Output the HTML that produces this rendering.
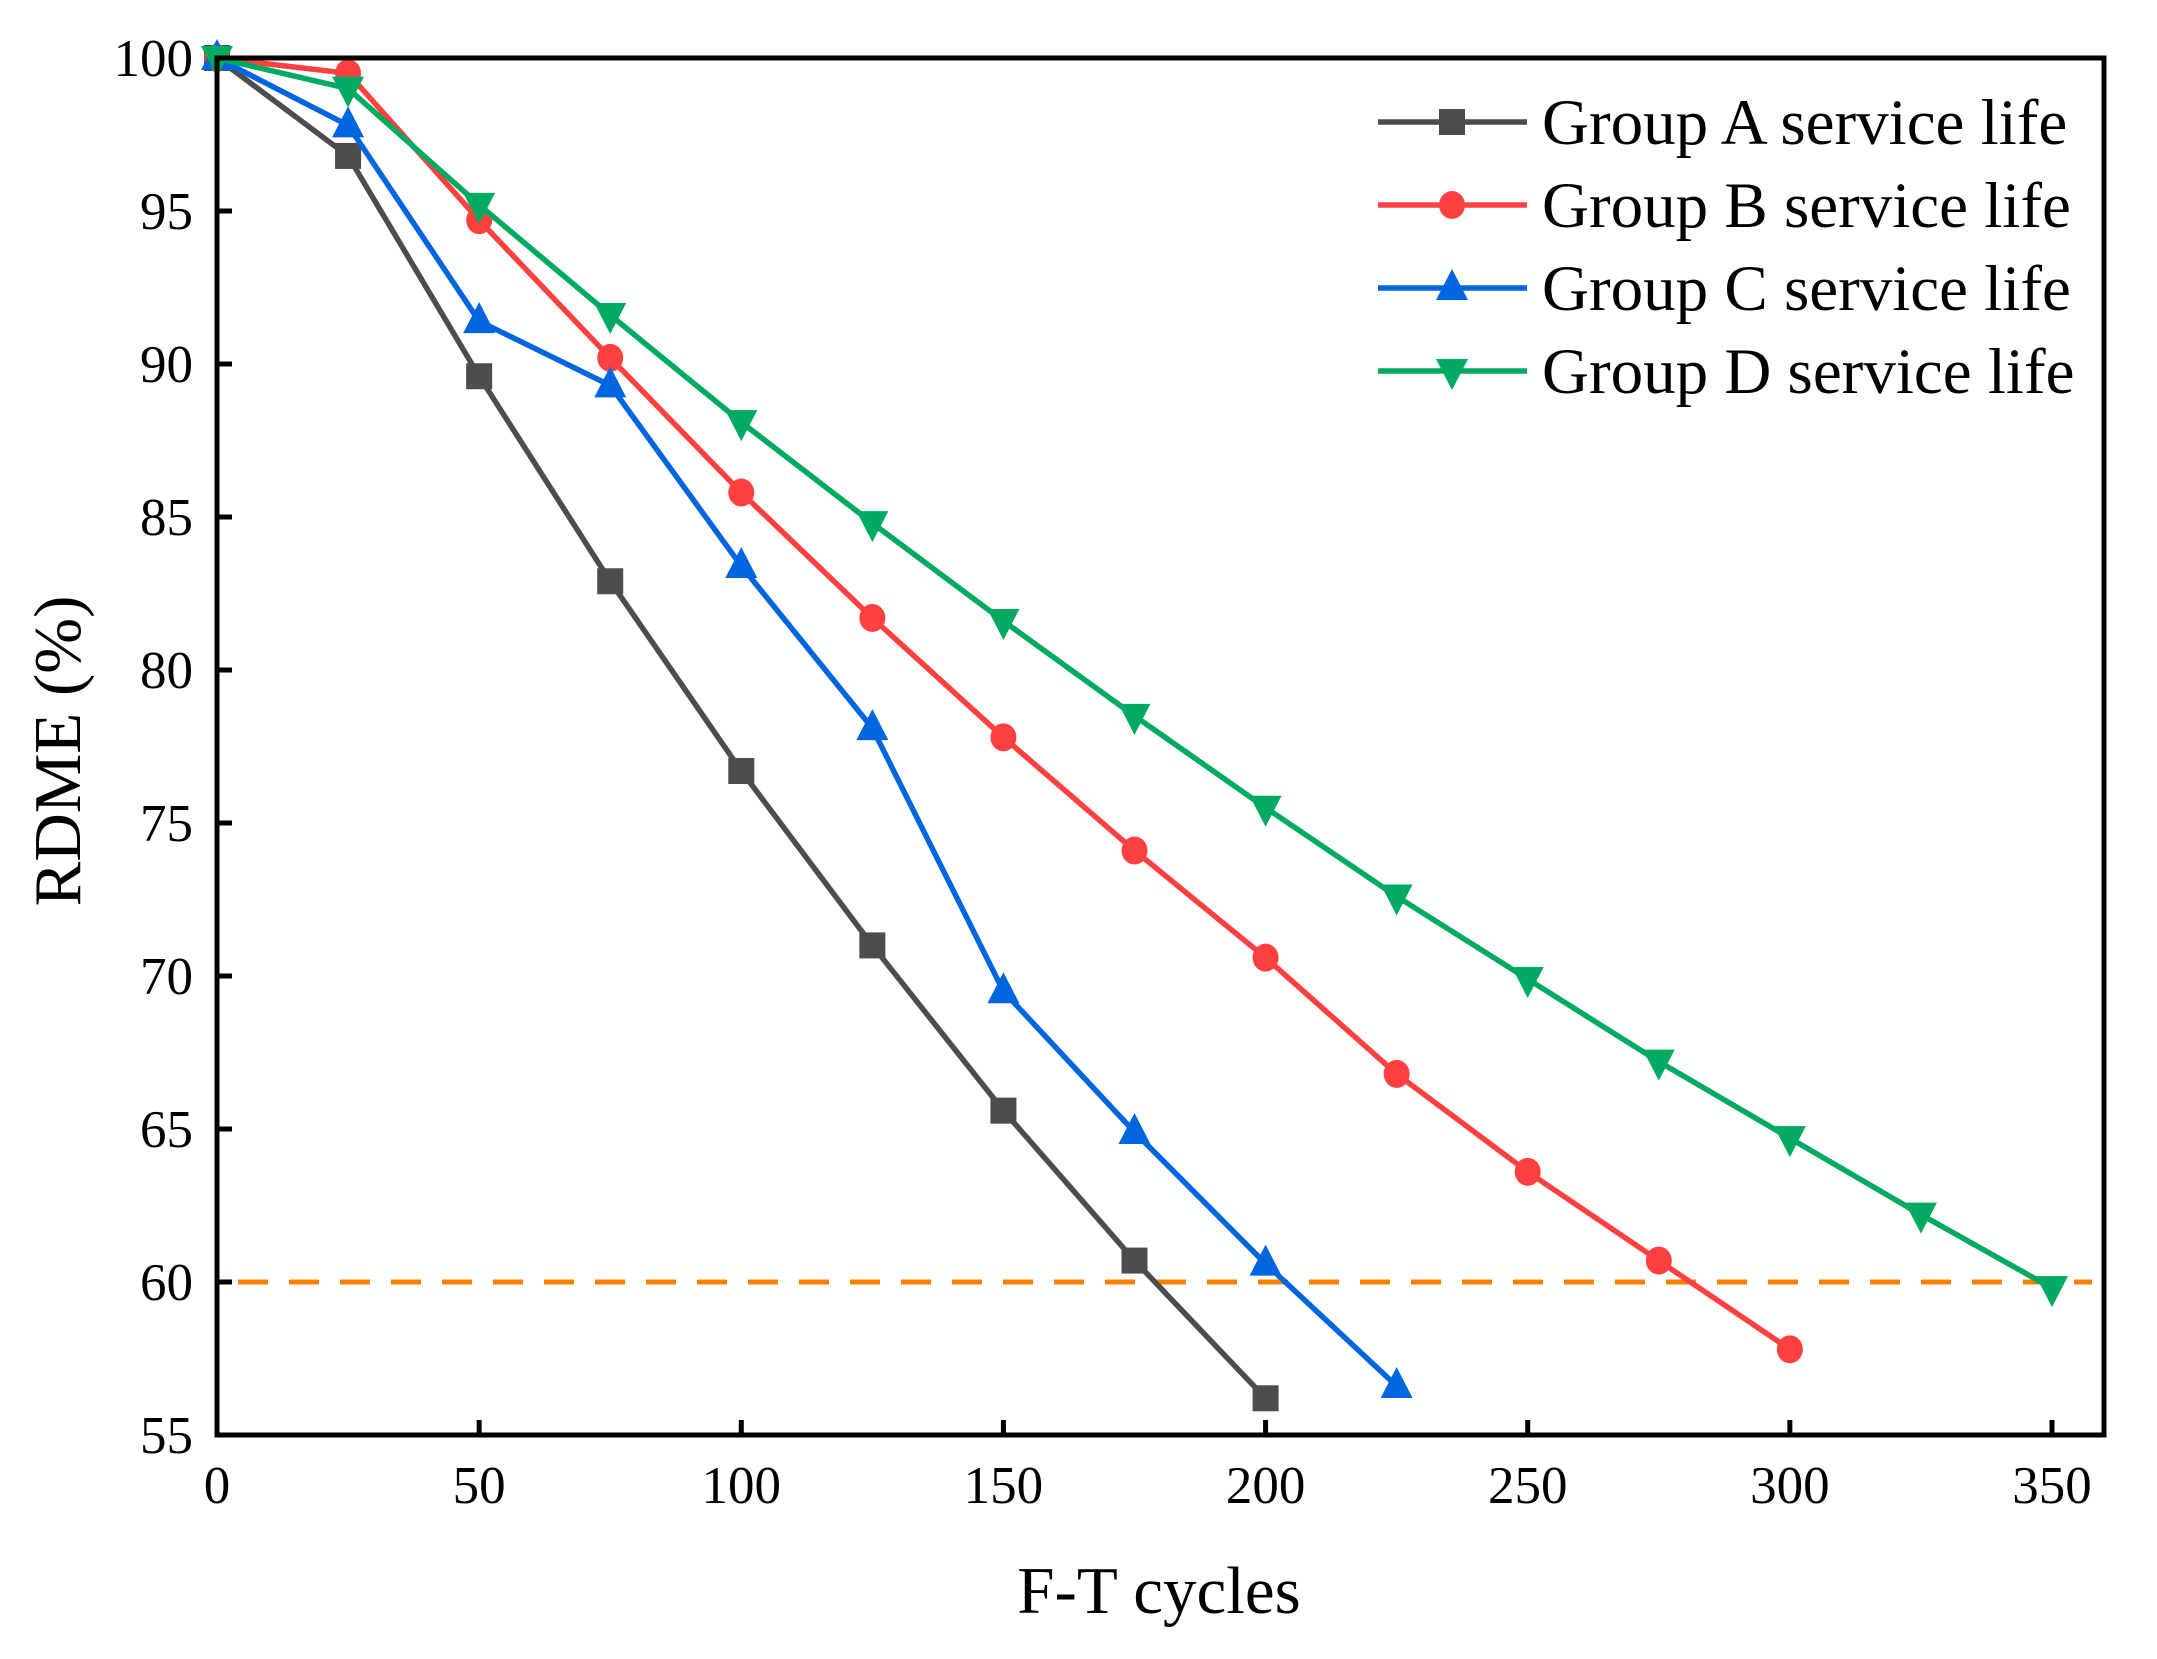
<!DOCTYPE html>
<html><head><meta charset="utf-8"><style>
html,body{margin:0;padding:0;background:#fff}
svg{display:block}
text{font-family:"Liberation Serif",serif;fill:#000}
</style></head><body>
<svg id="chart" width="2157" height="1659" viewBox="0 0 2157 1659" xmlns="http://www.w3.org/2000/svg"></svg>
<script>
const xTicks=[0,50,100,150,200,250,300,350];
const yTicks=[55,60,65,70,75,80,85,90,95,100];
const seriesNames=["Group A service life","Group B service life","Group C service life","Group D service life"];
const groupA=[100,96.8,89.6,82.9,76.7,71.0,65.6,60.7,56.2];
const groupB=[100,99.5,94.7,90.2,85.8,81.7,77.8,74.1,70.6,66.8,63.6,60.7,57.8];
const groupC=[100,97.8,91.4,89.3,83.4,78.1,69.5,64.9,60.6,56.6];
const groupD=[100,99.0,95.2,91.6,88.1,84.8,81.6,78.5,75.5,72.6,69.9,67.2,64.7,62.2,59.8];
const cycleStep=25;
const thresholdValue=60;

const L=217,R=2104,T=58,B=1435;
const x350=2052;
const X=v=>L+v/350*(x350-L);
const Y=v=>B-(v-55)/(100-55)*(B-T);
const svg=document.getElementById('chart');
const NS='http://www.w3.org/2000/svg';
function mk(tag,attrs,parent){const e=document.createElementNS(NS,tag);for(const k in attrs)e.setAttribute(k,attrs[k]);(parent||svg).appendChild(e);return e;}

const th=mk('line',{x1:238,x2:2092,y1:Y(thresholdValue),y2:Y(thresholdValue),stroke:'#ff8000','stroke-width':5,'stroke-dasharray':'30 21'});



const colors=['#4d4d4d','#ff4040','#0066e0','#00aa60'];
const shapes=['square','circle','up','down'];
const data=[groupA,groupB,groupC,groupD];
function marker(shape,cx,cy,col,g){
  let e;
  if(shape==='square') e=mk('rect',{x:cx-13,y:cy-13,width:26,height:26,fill:col},g);
  else if(shape==='circle') e=mk('ellipse',{cx:cx,cy:cy,rx:13,ry:14,fill:col},g);
  else if(shape==='up') e=mk('polygon',{points:`${cx},${cy-19} ${cx-16},${cy+12} ${cx+16},${cy+12}`,fill:col},g);
  else e=mk('polygon',{points:`${cx},${cy+19} ${cx-16},${cy-12} ${cx+16},${cy-12}`,fill:col},g);
  return e;
}
data.forEach((arr,i)=>{
  const g=mk('g',{});
  
  
  const pts=arr.map((v,j)=>X(j*cycleStep)+','+Y(v)).join(' ');
  const pl=mk('polyline',{points:pts,fill:'none',stroke:colors[i],'stroke-width':5.5,'stroke-linejoin':'round'},g);
  
  
  arr.forEach((v,j)=>{
    const m=marker(shapes[i],X(j*cycleStep),Y(v),colors[i],g);
    
    
  });
});

const fr=mk('rect',{x:L,y:T,width:R-L,height:B-T,fill:'none',stroke:'#000','stroke-width':5});



xTicks.forEach(v=>{
  const t=mk('line',{x1:X(v),x2:X(v),y1:B,y2:B-15,stroke:'#000','stroke-width':5});
  
  
  const tx=mk('text',{x:X(v),y:B+68,'text-anchor':'middle','font-size':53});
  tx.textContent=v;
  
  
});
yTicks.forEach(v=>{
  const t=mk('line',{x1:L,x2:L+15,y1:Y(v),y2:Y(v),stroke:'#000','stroke-width':5});
  
  
  const tx=mk('text',{x:L-24,y:Y(v)+18,'text-anchor':'end','font-size':53});
  tx.textContent=v;
  
  
});

const xt=mk('text',{x:1159,y:1613,'text-anchor':'middle','font-size':67});
xt.textContent='F-T cycles';


const yt=mk('text',{x:0,y:0,'text-anchor':'middle','font-size':67,transform:'translate(80,751) rotate(-90)'});
yt.textContent='RDME (%)';



const lg=mk('g',{});


seriesNames.forEach((n,i)=>{
  const y=122+i*83;
  const g=mk('g',{},lg);
  
  
  mk('line',{x1:1378,x2:1527,y1:y,y2:y,stroke:colors[i],'stroke-width':5.5},g);
  marker(shapes[i],1452,y,colors[i],g);
  const tx=mk('text',{x:1542,y:y+22,'font-size':65},g);
  tx.textContent=n;
});
</script>
</body></html>
